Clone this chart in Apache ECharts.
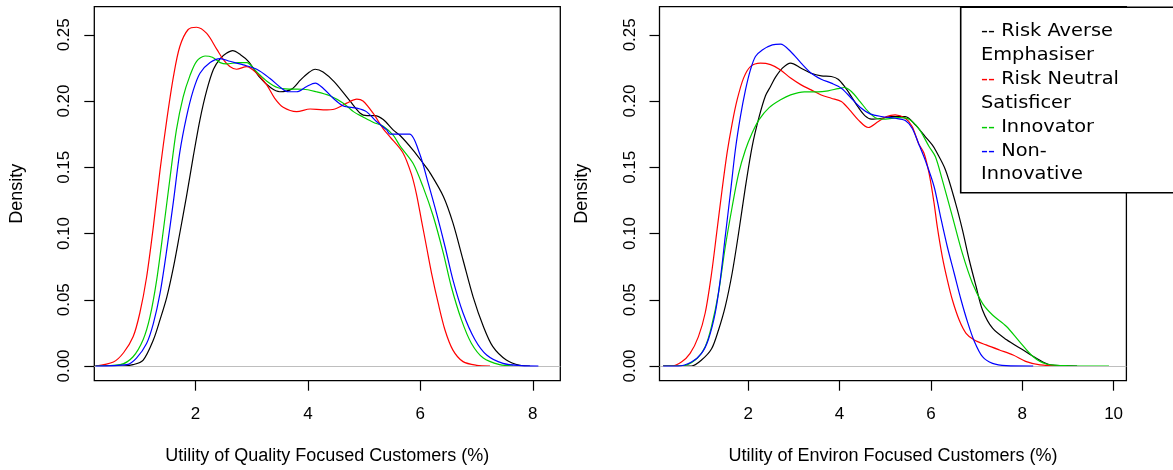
<!DOCTYPE html>
<html>
<head>
<meta charset="utf-8">
<title>Utility densities</title>
<script src="https://cdn.jsdelivr.net/npm/echarts@6/dist/echarts.min.js"></script>
<style>
html, body { margin: 0; padding: 0; background: #fff; }
#chart { width: 1173px; height: 470px; }
</style>
</head>
<body>
<div id="chart"></div>
<script>
// legend / series names, same order as the colours
const seriesNames = ['Risk Averse\nEmphasiser', 'Risk Neutral\nSatisficer', 'Innovator', 'Non-\nInnovative'];
const seriesColors = ['#000000', '#ff0000', '#00cd00', '#0000ff'];

const densityTicks = [0, 0.05, 0.1, 0.15, 0.2, 0.25];
const qualityTicks = [2, 4, 6, 8];
const environTicks = [2, 4, 6, 8, 10];

// left panel: utility of quality focused customers, [x, density]
const qualityAverse = [[0.22,0],[0.7,0],[0.89,0.001],[1.07,0.0045],[1.25,0.0196],[1.37,0.035],[1.49,0.052],[1.61,0.075],[1.72,0.100],[1.84,0.128],[1.96,0.158],[2.08,0.186],[2.20,0.208],[2.32,0.224],[2.44,0.232],[2.55,0.236],[2.66,0.238],[2.80,0.235],[2.94,0.230],[3.14,0.218],[3.34,0.210],[3.50,0.207],[3.71,0.209],[3.87,0.216],[4.0,0.221],[4.13,0.224],[4.27,0.222],[4.47,0.2145],[4.74,0.2005],[4.93,0.1908],[5.05,0.189],[5.19,0.189],[5.34,0.186],[5.52,0.178],[5.64,0.174],[5.87,0.163],[6.05,0.153],[6.17,0.146],[6.41,0.128],[6.58,0.108],[6.76,0.080],[6.94,0.052],[7.12,0.030],[7.29,0.0146],[7.53,0.0045],[7.77,0.0005],[7.95,0]];
const qualityNeutral = [[0.22,0],[0.54,0.003],[0.72,0.010],[0.89,0.022],[1.01,0.040],[1.13,0.067],[1.25,0.105],[1.37,0.148],[1.49,0.186],[1.61,0.219],[1.72,0.241],[1.87,0.254],[2.02,0.2557],[2.20,0.251],[2.38,0.239],[2.50,0.231],[2.61,0.226],[2.73,0.224],[2.91,0.226],[3.09,0.221],[3.27,0.212],[3.41,0.202],[3.56,0.1953],[3.80,0.192],[4.04,0.194],[4.27,0.1933],[4.48,0.194],[4.69,0.1984],[4.87,0.2014],[4.98,0.200],[5.16,0.1908],[5.34,0.179],[5.46,0.173],[5.69,0.161],[5.84,0.145],[5.93,0.130],[6.02,0.110],[6.11,0.090],[6.20,0.070],[6.32,0.047],[6.44,0.027],[6.58,0.012],[6.76,0.0033],[7.0,0.0005],[7.24,0]];
const qualityInnovator = [[0.22,0],[0.66,0.001],[0.89,0.007],[1.07,0.020],[1.19,0.037],[1.31,0.065],[1.43,0.103],[1.55,0.143],[1.66,0.178],[1.78,0.203],[1.90,0.219],[2.02,0.230],[2.17,0.234],[2.30,0.233],[2.44,0.229],[2.55,0.228],[2.76,0.229],[2.91,0.229],[3.09,0.222],[3.27,0.215],[3.47,0.210],[3.68,0.209],[3.92,0.2089],[4.15,0.207],[4.39,0.204],[4.63,0.1984],[4.81,0.192],[4.98,0.188],[5.16,0.184],[5.34,0.181],[5.52,0.174],[5.64,0.166],[5.87,0.153],[6.05,0.135],[6.23,0.113],[6.41,0.085],[6.55,0.060],[6.73,0.035],[6.91,0.017],[7.12,0.006],[7.41,0.001],[7.65,0]];
const qualityNonInnov = [[0.22,0],[0.78,0.001],[0.95,0.006],[1.13,0.017],[1.25,0.032],[1.37,0.055],[1.49,0.088],[1.61,0.125],[1.72,0.161],[1.84,0.188],[1.96,0.208],[2.08,0.221],[2.26,0.229],[2.44,0.232],[2.61,0.230],[2.85,0.2273],[3.09,0.224],[3.32,0.2172],[3.53,0.2097],[3.65,0.207],[3.80,0.207],[3.98,0.211],[4.13,0.2135],[4.27,0.2097],[4.45,0.2021],[4.63,0.1963],[4.87,0.1946],[5.04,0.192],[5.22,0.1845],[5.40,0.1782],[5.46,0.175],[5.64,0.175],[5.81,0.175],[5.99,0.160],[6.14,0.138],[6.29,0.115],[6.44,0.090],[6.58,0.065],[6.76,0.040],[6.97,0.020],[7.18,0.0083],[7.47,0.002],[7.8,0.0003],[8.1,0]];

// right panel: utility of environ focused customers
const environAverse = [[0.14,0],[0.76,0],[0.98,0.0045],[1.20,0.013],[1.35,0.027],[1.50,0.045],[1.65,0.070],[1.79,0.100],[1.94,0.135],[2.09,0.166],[2.24,0.188],[2.38,0.204],[2.49,0.211],[2.60,0.218],[2.75,0.2248],[2.93,0.2286],[3.16,0.2248],[3.38,0.221],[3.60,0.219],[3.82,0.2185],[3.97,0.2165],[4.11,0.211],[4.26,0.2034],[4.41,0.1953],[4.56,0.1888],[4.70,0.1863],[4.92,0.187],[5.14,0.1883],[5.44,0.1883],[5.66,0.182],[5.88,0.173],[6.03,0.1669],[6.10,0.163],[6.32,0.148],[6.54,0.123],[6.69,0.103],[6.84,0.080],[6.99,0.060],[7.13,0.0423],[7.35,0.0285],[7.65,0.020],[8.02,0.012],[8.31,0.0058],[8.61,0.0008],[9.2,0]];
const environNeutral = [[0.14,0],[0.32,0],[0.54,0.003],[0.73,0.0095],[0.91,0.022],[1.06,0.040],[1.20,0.070],[1.31,0.100],[1.43,0.133],[1.54,0.161],[1.65,0.183],[1.76,0.201],[1.90,0.2173],[2.05,0.226],[2.27,0.2286],[2.49,0.2275],[2.71,0.2235],[2.93,0.2173],[3.16,0.2122],[3.38,0.2084],[3.60,0.2046],[3.82,0.2021],[4.04,0.1996],[4.22,0.1933],[4.41,0.1858],[4.63,0.180],[4.85,0.1845],[5.03,0.1883],[5.22,0.1896],[5.44,0.187],[5.59,0.1808],[5.73,0.168],[5.85,0.1606],[5.96,0.1455],[6.07,0.123],[6.14,0.1052],[6.25,0.0826],[6.36,0.065],[6.47,0.050],[6.62,0.0347],[6.77,0.0247],[6.95,0.0196],[7.21,0.0159],[7.50,0.0121],[7.80,0.0083],[8.09,0.0033],[8.39,0.0008],[8.83,0]];
const environInnovator = [[0.14,0],[0.54,0],[0.84,0.0045],[1.06,0.0146],[1.20,0.030],[1.35,0.055],[1.50,0.090],[1.65,0.120],[1.79,0.145],[1.94,0.163],[2.09,0.176],[2.24,0.186],[2.46,0.195],[2.71,0.2009],[2.93,0.2046],[3.23,0.2069],[3.52,0.2069],[3.75,0.2077],[3.97,0.2094],[4.11,0.2102],[4.26,0.2072],[4.45,0.1996],[4.63,0.192],[4.81,0.187],[5.0,0.1863],[5.29,0.1875],[5.51,0.1865],[5.73,0.1795],[5.96,0.1657],[6.10,0.158],[6.25,0.1405],[6.47,0.113],[6.69,0.085],[6.91,0.0625],[7.13,0.0473],[7.35,0.0385],[7.65,0.030],[7.94,0.0184],[8.24,0.007],[8.53,0.0015],[9.0,0.0002],[9.9,0]];
const environNonInnov = [[0.14,0],[0.47,0],[0.76,0.003],[0.98,0.0095],[1.13,0.020],[1.28,0.040],[1.39,0.065],[1.50,0.098],[1.61,0.130],[1.72,0.163],[1.83,0.188],[1.94,0.208],[2.05,0.2235],[2.16,0.2336],[2.31,0.2386],[2.53,0.2424],[2.71,0.243],[2.93,0.2374],[3.16,0.2286],[3.38,0.221],[3.60,0.2165],[3.82,0.2135],[4.04,0.2097],[4.26,0.2021],[4.45,0.1953],[4.67,0.1903],[4.92,0.1883],[5.22,0.187],[5.44,0.1853],[5.59,0.1795],[5.73,0.168],[5.88,0.155],[6.07,0.1355],[6.21,0.113],[6.36,0.090],[6.51,0.070],[6.66,0.050],[6.80,0.0335],[6.95,0.0187],[7.13,0.007],[7.35,0.002],[7.65,0.0003],[8.24,0]];

const qualitySeries = [qualityAverse, qualityNeutral, qualityInnovator, qualityNonInnov];
const environSeries = [environAverse, environNeutral, environInnovator, environNonInnov];

const AXIS_FONT = "'Liberation Sans', Arial, sans-serif";

function xAxisFor(idx, min, max, ticks, title) {
    return {
        type: 'value', gridIndex: idx, min: min, max: max,
        name: title, nameLocation: 'middle', nameGap: 66,
        nameTextStyle: { fontFamily: AXIS_FONT, fontSize: 18, color: '#000' },
        axisLine: { show: false, onZero: false },
        axisTick: { show: true, length: 10, customValues: ticks, lineStyle: { color: '#000', width: 1.2 } },
        axisLabel: { customValues: ticks, margin: 25, fontFamily: AXIS_FONT, fontSize: 17, color: '#000' },
        splitLine: { show: false }
    };
}

function yAxisFor(idx) {
    return {
        type: 'value', gridIndex: idx, min: -0.0111, max: 0.2712,
        name: 'Density', nameLocation: 'middle', nameGap: 68, nameRotate: 90,
        nameTextStyle: { fontFamily: AXIS_FONT, fontSize: 18, color: '#000' },
        axisLine: { show: false, onZero: false },
        axisTick: { show: true, length: 10, customValues: densityTicks, lineStyle: { color: '#000', width: 1.2 } },
        axisLabel: {
            customValues: densityTicks, rotate: 90, margin: 21,
            fontFamily: AXIS_FONT, fontSize: 17, color: '#000',
            formatter: v => v.toFixed(2)
        },
        splitLine: { show: false }
    };
}

function lineSeries(data, i, idx) {
    let s = {
        name: seriesNames[i], type: 'line', data: data,
        xAxisIndex: idx, yAxisIndex: idx,
        showSymbol: false, symbol: 'none', smooth: 0.3, silent: true,
        lineStyle: { color: seriesColors[i], width: 1.2 },
        z: 2 + i
    };
    // the grey zero line goes over the first curve only, like R's plot.density
    if (i === 0) {
        s.markLine = {
            silent: true, symbol: 'none', label: { show: false },
            lineStyle: { color: '#bebebe', width: 1, type: 'solid' },
            data: [{ yAxis: 0 }]
        };
    }
    return s;
}

let series = [];
qualitySeries.forEach((d, i) => series.push(lineSeries(d, i, 0)));
environSeries.forEach((d, i) => series.push(lineSeries(d, i, 1)));

// legend text: coloured "--" then the name
const legendText = seriesNames.map((n, i) => '{c' + i + '|--} ' + n).join('\n');
let legendRich = {};
seriesColors.forEach((c, i) => { legendRich['c' + i] = { fill: c, lineHeight: 23.9 }; });

let myChart = echarts.init(document.getElementById('chart'));
let option = {
    animation: false,
    backgroundColor: '#fff',
    grid: [
        { left: 94.3, right: 612.7, top: 6.7, bottom: 89.3, show: true, borderColor: '#000', borderWidth: 1.3 },
        { left: 659.5, right: 46.6, top: 6.7, bottom: 89.3, show: true, borderColor: '#000', borderWidth: 1.3 }
    ],
    xAxis: [
        xAxisFor(0, 0.2, 8.49, qualityTicks, 'Utility of Quality Focused Customers (%)'),
        xAxisFor(1, 0.06, 10.28, environTicks, 'Utility of Environ Focused Customers (%)')
    ],
    yAxis: [yAxisFor(0), yAxisFor(1)],
    series: series,
    graphic: [
        {
            type: 'rect', z: 100,
            shape: { x: 960.7, y: 7.3, width: 260, height: 185.4 },
            style: { fill: '#fff', stroke: '#000', lineWidth: 1.6 }
        },
        {
            type: 'text', z: 101, x: 981, y: 19.7, scaleX: 1.14,
            style: {
                text: legendText, fill: '#000',
                fontFamily: "'DejaVu Sans', Verdana, sans-serif", fontSize: 17,
                lineHeight: 23.9, verticalAlign: 'top', rich: legendRich
            }
        }
    ]
};
option && myChart.setOption(option);
</script>
</body>
</html>
